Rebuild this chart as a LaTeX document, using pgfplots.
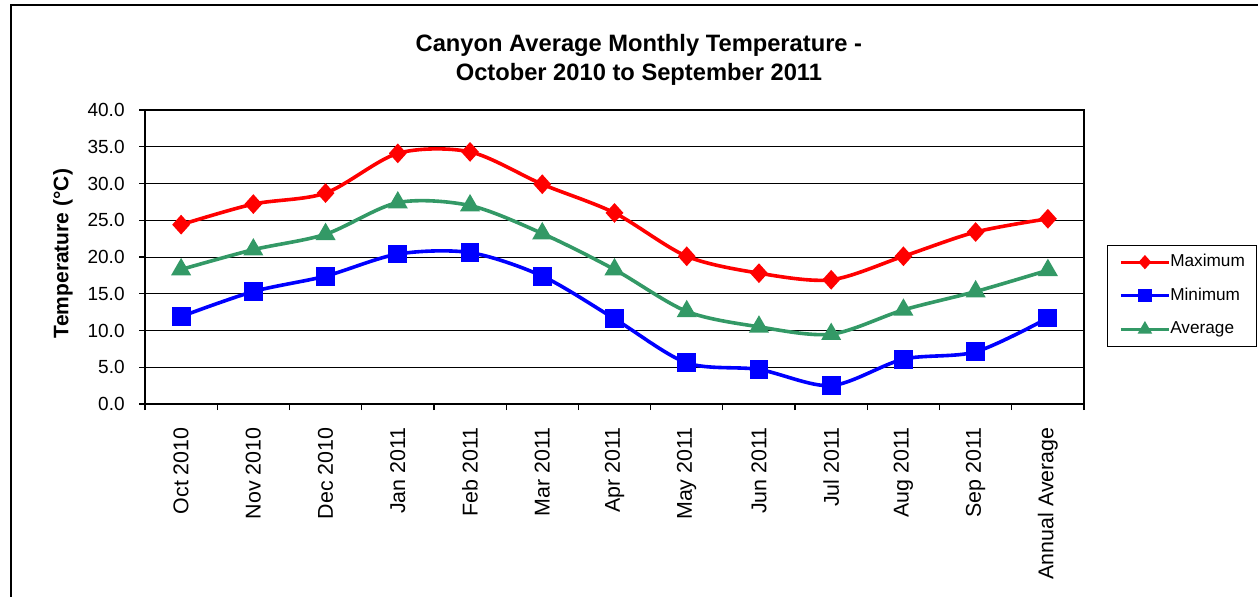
\documentclass[border=0pt]{standalone}
\usepackage{fontspec}
\setmainfont{Liberation Sans}
\usepackage{pgfplots}
\pgfplotsset{compat=1.18}
\definecolor{maxred}{RGB}{255,0,0}
\definecolor{minblue}{RGB}{0,0,255}
\definecolor{avggreen}{RGB}{51,153,102}
\begin{document}
\begin{tikzpicture}
\useasboundingbox (0,0) rectangle (629pt,298pt);
\draw[line width=1pt] (5.5pt,-1pt) -- (5.5pt,295.5pt) -- (630pt,295.5pt);
\begin{axis}[
  at={(72.5pt,96pt)}, anchor=south west,
  scale only axis, width=469.5pt, height=147pt,
  xmin=-0.5, xmax=12.5, ymin=0, ymax=40,
  xtick={0,...,12},
  xticklabels={Oct 2010,Nov 2010,Dec 2010,Jan 2011,Feb 2011,Mar 2011,Apr 2011,May 2011,Jun 2011,Jul 2011,Aug 2011,Sep 2011,Annual Average},
  minor xtick={-0.5,0.5,...,12.5},
  every major x tick/.style={draw=none},
  ytick={0,5,...,40},
  tick align=outside, tick pos=left,
  major tick length=3pt, minor tick length=3pt,
  ymajorgrids,
  major grid style={black, line width=0.5pt},
  axis line style={black, line width=0.6pt},
  tick style={black, line width=0.6pt},
  /pgf/number format/assume math mode=true,
  yticklabel={\pgfmathprintnumber[fixed,fixed zerofill,precision=1]{\tick}},
  yticklabel style={font=\fontsize{9.5}{11}\selectfont, inner sep=0pt, anchor=east, xshift=-7pt},
  xticklabel style={font=\fontsize{10.7}{12}\selectfont, inner sep=0pt, yshift=-8.5pt, rotate=90, anchor=east},
  title={Canyon Average Monthly Temperature -\\October 2010 to September 2011},
  title style={align=center, font=\bfseries\fontsize{11.85}{14.2}\selectfont, at={(axis description cs:0.526,1.043)}, anchor=south, inner sep=0pt},
  ylabel={Temperature (°C)},
  ylabel style={at={(axis description cs:-0.0873,0.512)}, anchor=center, font=\bfseries\fontsize{10.5}{12}\selectfont, inner sep=0pt},
  legend style={at={(axis description cs:1.0245,0.541)}, anchor=north west,
    draw=black, line width=0.5pt, inner xsep=6pt, inner ysep=4.3pt,
    row sep=8.7pt, font=\fontsize{8.6}{10}\selectfont,
    nodes={inner sep=0pt, text height=6.3pt, text depth=1.8pt}},
  legend cell align=left,
  legend image code/.code={\draw[mark repeat=2,mark phase=2,line width=1.4pt,every mark/.append style={scale=0.7}] plot coordinates {(0pt,0pt)(12pt,0pt)(24pt,0pt)};\hspace{2pt}},
  every axis plot/.append style={line width=1.8pt, smooth, tension=0.5},
]
\addplot[color=maxred, mark=diamond*, mark size=3.6pt, mark options={solid, xscale=1.2}] coordinates {
(0,24.4) (1,27.2) (2,28.7) (3,34.1) (4,34.3) (5,29.9) (6,26.0) (7,20.1) (8,17.8) (9,16.9) (10,20.1) (11,23.4) (12,25.2)};
\addlegendentry{Maximum}
\addplot[color=minblue, mark=square*, mark size=3.8pt, mark options={solid}] coordinates {
(0,11.9) (1,15.3) (2,17.4) (3,20.4) (4,20.6) (5,17.4) (6,11.6) (7,5.6) (8,4.7) (9,2.5) (10,6.1) (11,7.1) (12,11.7)};
\addlegendentry{Minimum}
\addplot[color=avggreen, mark=triangle*, mark size=4pt, mark options={solid}] coordinates {
(0,18.3) (1,21.0) (2,23.1) (3,27.4) (4,27.0) (5,23.2) (6,18.3) (7,12.6) (8,10.5) (9,9.5) (10,12.8) (11,15.3) (12,18.2)};
\addlegendentry{Average}
\end{axis}
\end{tikzpicture}
\end{document}
